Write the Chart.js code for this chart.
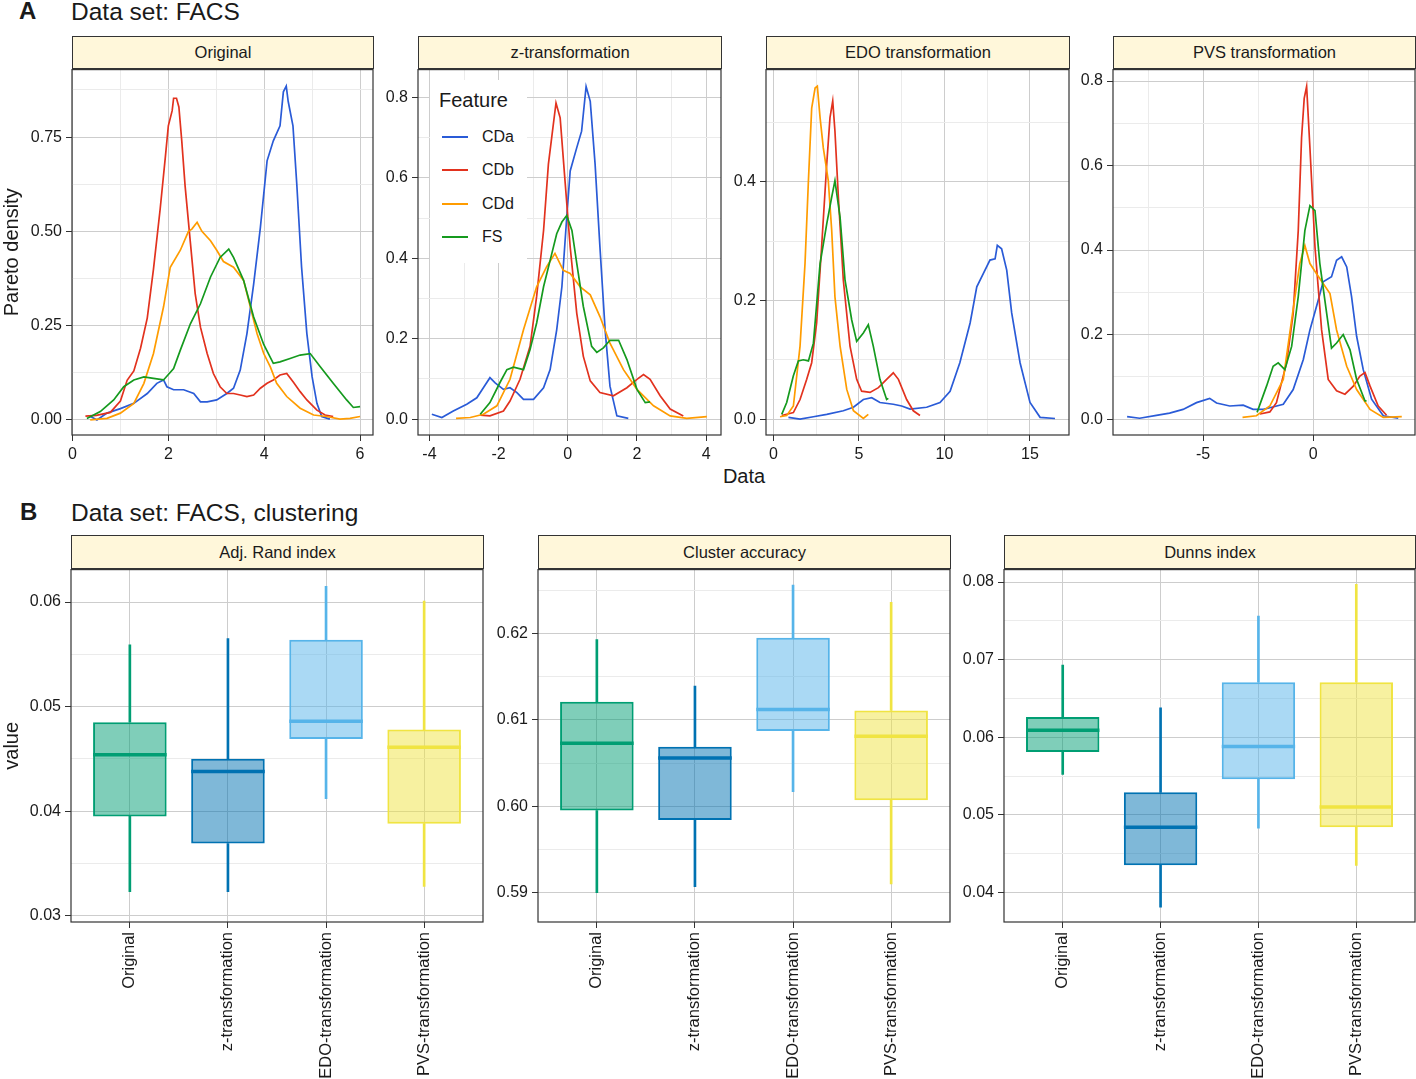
<!DOCTYPE html>
<html><head><meta charset="utf-8">
<script src="https://cdn.jsdelivr.net/npm/chart.js@4.4.1/dist/chart.umd.min.js"></script>
<style>
html,body{margin:0;padding:0;background:#fff;}
body{width:1416px;height:1079px;position:relative;overflow:hidden;font-family:"Liberation Sans",Arial,sans-serif;color:#1a1a1a;}
canvas{position:absolute;}
.strip{position:absolute;box-sizing:border-box;background:#FFF7DA;border:1px solid #333;font-size:16.5px;text-align:center;color:#1a1a1a;white-space:nowrap;}
.txt{position:absolute;white-space:nowrap;line-height:1.2;}
.leg{position:absolute;left:430px;top:80px;width:97px;height:183px;background:#fff;}
.leg .it{position:absolute;left:52px;font-size:16px;line-height:20px;}
.leg .sw{position:absolute;left:12px;width:26px;height:2px;}
</style></head><body>
<div class="txt" style="left:19px;top:-3px;font-size:24px;font-weight:bold;">A</div>
<div class="txt" style="left:71px;top:-3px;font-size:24.5px;">Data set: FACS</div>
<div class="txt" style="left:20px;top:498px;font-size:24px;font-weight:bold;">B</div>
<div class="txt" style="left:71px;top:498px;font-size:24.5px;">Data set: FACS, clustering</div>
<div class="txt" style="left:744px;top:464px;font-size:20px;transform:translateX(-50%);">Data</div>
<script>
// ---------------- DATA ----------------
const features = ['CDa', 'CDb', 'CDd', 'FS'];
const featureColors = ['#2A5BD7', '#E2321E', '#FF9C00', '#159A1E'];

const origCDa = [[0.37,0.01],[0.51,0.0],[0.72,0.018],[1.0,0.03],[1.28,0.044],[1.56,0.07],[1.76,0.097],[1.9,0.106],[1.97,0.088],[2.11,0.08],[2.32,0.08],[2.53,0.07],[2.67,0.048],[2.81,0.048],[3.01,0.053],[3.22,0.07],[3.36,0.084],[3.5,0.132],[3.64,0.229],[3.78,0.36],[3.92,0.51],[4.06,0.687],[4.19,0.74],[4.33,0.78],[4.4,0.87],[4.46,0.885],[4.5,0.845],[4.6,0.78],[4.68,0.625],[4.78,0.405],[4.89,0.229],[5.0,0.114],[5.1,0.044],[5.2,0.009],[5.37,0.002]];
const origCDb = [[0.27,0.01],[0.5,0.012],[0.79,0.02],[1.0,0.05],[1.14,0.105],[1.28,0.13],[1.42,0.19],[1.56,0.27],[1.69,0.40],[1.83,0.56],[1.94,0.70],[2.0,0.78],[2.08,0.82],[2.11,0.853],[2.17,0.853],[2.22,0.83],[2.28,0.74],[2.35,0.62],[2.46,0.47],[2.56,0.335],[2.67,0.246],[2.81,0.176],[2.94,0.123],[3.08,0.088],[3.22,0.07],[3.36,0.07],[3.5,0.066],[3.64,0.062],[3.78,0.066],[3.92,0.084],[4.06,0.097],[4.19,0.106],[4.33,0.119],[4.47,0.123],[4.61,0.10],[4.75,0.075],[4.89,0.053],[5.1,0.026],[5.27,0.013],[5.44,0.009]];
const origCDd = [[0.37,0.0],[0.72,0.004],[1.0,0.018],[1.28,0.044],[1.49,0.097],[1.69,0.176],[1.9,0.30],[2.04,0.405],[2.25,0.45],[2.42,0.50],[2.49,0.506],[2.6,0.524],[2.7,0.50],[2.88,0.475],[3.01,0.45],[3.15,0.42],[3.36,0.405],[3.57,0.37],[3.71,0.30],[3.85,0.229],[3.99,0.176],[4.13,0.14],[4.26,0.097],[4.47,0.062],[4.75,0.031],[5.03,0.013],[5.3,0.009],[5.58,0.002],[5.79,0.004],[6.0,0.009]];
const origFS = [[0.3,0.004],[0.58,0.022],[0.86,0.053],[1.07,0.088],[1.28,0.106],[1.49,0.114],[1.69,0.11],[1.9,0.106],[2.11,0.136],[2.25,0.185],[2.46,0.255],[2.67,0.308],[2.88,0.379],[3.08,0.431],[3.26,0.453],[3.36,0.431],[3.57,0.37],[3.78,0.273],[3.99,0.20],[4.19,0.15],[4.33,0.154],[4.54,0.163],[4.75,0.172],[4.96,0.176],[5.17,0.141],[5.44,0.097],[5.72,0.053],[5.86,0.033],[6.0,0.035]];

const zCDa = [[-3.93,0.012],[-3.64,0.004],[-3.31,0.02],[-2.92,0.037],[-2.63,0.053],[-2.44,0.078],[-2.25,0.103],[-2.1,0.09],[-1.86,0.074],[-1.67,0.078],[-1.47,0.066],[-1.28,0.049],[-0.99,0.049],[-0.70,0.078],[-0.51,0.123],[-0.32,0.222],[-0.17,0.329],[-0.03,0.502],[0.07,0.617],[0.26,0.675],[0.40,0.716],[0.53,0.827],[0.65,0.79],[0.79,0.634],[0.93,0.428],[1.08,0.222],[1.22,0.082],[1.42,0.008],[1.75,0.002]];
const zCDb = [[-2.53,0.01],[-2.25,0.008],[-1.86,0.02],[-1.67,0.045],[-1.38,0.099],[-1.09,0.181],[-0.90,0.305],[-0.70,0.469],[-0.56,0.634],[-0.43,0.724],[-0.34,0.786],[-0.22,0.749],[-0.08,0.593],[0.07,0.428],[0.26,0.263],[0.45,0.156],[0.65,0.095],[0.93,0.066],[1.32,0.058],[1.71,0.078],[2.0,0.099],[2.19,0.111],[2.38,0.099],[2.67,0.058],[2.96,0.025],[3.34,0.008]];
const zCDd = [[-3.23,0.002],[-2.82,0.004],[-2.44,0.012],[-2.05,0.033],[-1.67,0.099],[-1.28,0.222],[-0.90,0.329],[-0.61,0.379],[-0.37,0.412],[-0.13,0.370],[0.07,0.362],[0.36,0.329],[0.65,0.309],[0.93,0.255],[1.22,0.189],[1.61,0.123],[2.0,0.074],[2.48,0.033],[2.96,0.008],[3.44,0.002],[4.02,0.006]];
const zFS = [[-2.53,0.012],[-2.25,0.041],[-1.96,0.091],[-1.76,0.123],[-1.57,0.129],[-1.28,0.123],[-1.09,0.173],[-0.90,0.239],[-0.70,0.329],[-0.46,0.412],[-0.32,0.461],[-0.17,0.490],[-0.03,0.506],[0.12,0.469],[0.26,0.387],[0.45,0.280],[0.69,0.181],[0.84,0.166],[1.03,0.177],[1.22,0.196],[1.47,0.196],[1.71,0.148],[2.0,0.074],[2.24,0.041],[2.38,0.043]];

const edoCDa = [[0.88,0.003],[1.56,0.0],[2.34,0.004],[3.12,0.008],[4.09,0.014],[4.68,0.02],[5.26,0.033],[5.75,0.036],[6.23,0.028],[7.01,0.025],[7.5,0.022],[7.99,0.017],[8.96,0.020],[9.74,0.028],[10.33,0.047],[10.9,0.095],[11.5,0.162],[11.89,0.223],[12.27,0.245],[12.66,0.268],[12.96,0.27],[13.09,0.293],[13.34,0.287],[13.64,0.251],[13.93,0.179],[14.42,0.095],[15.0,0.028],[15.59,0.003],[16.46,0.001]];
const edoCDb = [[0.49,0.006],[1.17,0.011],[1.56,0.033],[1.95,0.067],[2.24,0.095],[2.53,0.162],[2.82,0.29],[3.12,0.43],[3.31,0.508],[3.47,0.536],[3.6,0.485],[3.8,0.374],[4.09,0.234],[4.48,0.123],[4.87,0.067],[5.16,0.047],[5.65,0.045],[6.14,0.053],[6.62,0.067],[7.01,0.078],[7.31,0.067],[7.79,0.033],[8.18,0.014],[8.57,0.006]];
const edoCDd = [[0.39,0.004],[0.78,0.006],[1.17,0.022],[1.56,0.123],[1.85,0.262],[2.05,0.402],[2.24,0.524],[2.44,0.558],[2.57,0.561],[2.73,0.508],[2.92,0.457],[3.21,0.402],[3.41,0.318],[3.6,0.206],[3.9,0.123],[4.29,0.05],[4.68,0.014],[5.26,0.001],[5.55,0.008]];
const edoFS = [[0.49,0.008],[0.78,0.028],[1.17,0.073],[1.46,0.098],[1.75,0.1],[2.05,0.098],[2.34,0.128],[2.73,0.262],[3.12,0.329],[3.41,0.374],[3.6,0.402],[3.9,0.34],[4.19,0.234],[4.58,0.167],[4.87,0.131],[5.26,0.145],[5.55,0.159],[5.84,0.123],[6.23,0.067],[6.62,0.033],[6.72,0.035]];

const pvsCDa = [[-8.45,0.006],[-7.88,0.002],[-7.12,0.009],[-6.52,0.014],[-5.91,0.023],[-5.3,0.039],[-4.7,0.049],[-4.39,0.038],[-3.79,0.031],[-3.18,0.033],[-2.73,0.023],[-2.27,0.023],[-1.97,0.027],[-1.36,0.035],[-0.91,0.07],[-0.45,0.141],[-0.15,0.211],[0.23,0.282],[0.45,0.325],[0.83,0.337],[1.06,0.376],[1.29,0.384],[1.52,0.36],[1.74,0.29],[1.97,0.196],[2.27,0.117],[2.65,0.047],[3.18,0.008],[3.86,0.002]];
const pvsCDb = [[-2.42,0.012],[-1.97,0.017],[-1.67,0.039],[-1.21,0.133],[-0.91,0.25],[-0.68,0.446],[-0.53,0.665],[-0.41,0.759],[-0.3,0.787],[-0.15,0.642],[0.08,0.407],[0.38,0.211],[0.68,0.094],[1.06,0.067],[1.44,0.059],[1.82,0.078],[2.12,0.102],[2.35,0.11],[2.58,0.078],[2.95,0.031],[3.33,0.009]];
const pvsCDd = [[-3.21,0.004],[-2.58,0.008],[-1.97,0.031],[-1.36,0.094],[-0.98,0.235],[-0.61,0.368],[-0.38,0.411],[-0.15,0.368],[0.15,0.344],[0.45,0.321],[0.76,0.297],[1.06,0.211],[1.52,0.125],[1.97,0.07],[2.58,0.023],[3.18,0.004],[4.02,0.006]];
const pvsFS = [[-2.55,0.016],[-2.12,0.078],[-1.82,0.125],[-1.59,0.133],[-1.29,0.117],[-0.98,0.172],[-0.68,0.29],[-0.38,0.446],[-0.15,0.505],[0.08,0.493],[0.3,0.368],[0.61,0.25],[0.83,0.168],[1.06,0.18],[1.36,0.2],[1.67,0.164],[1.97,0.094],[2.35,0.043],[2.42,0.043]];

// tick values
const origXMajor = [0,2,4,6], origXMinor = [1,3,5];
const origYMajor = [0,0.25,0.5,0.75], origYMinor = [0.125,0.375,0.625,0.875];
const zXMajor = [-4,-2,0,2,4], zXMinor = [-3,-1,1,3];
const zYMajor = [0,0.2,0.4,0.6,0.8], zYMinor = [0.1,0.3,0.5,0.7];
const edoXMajor = [0,5,10,15], edoXMinor = [2.5,7.5,12.5];
const edoYMajor = [0,0.2,0.4], edoYMinor = [0.1,0.3,0.5];
const pvsXMajor = [-5,0], pvsXMinor = [-7.5,-2.5,2.5];
const pvsYMajor = [0,0.2,0.4,0.6,0.8], pvsYMinor = [0.1,0.3,0.5,0.7];

// boxplots: [lower whisker, Q1, median, Q3, upper whisker]
const methods = ['Original', 'z-transformation', 'EDO-transformation', 'PVS-transformation'];
const methodColors = ['#009E73', '#0072B2', '#56B4E9', '#F0E442'];
const methodFills = ['rgba(0,158,115,0.5)', 'rgba(0,114,178,0.5)', 'rgba(86,180,233,0.5)', 'rgba(240,228,66,0.5)'];
const adjRandBoxes = [[0.0323,0.0395,0.0454,0.0485,0.0559],[0.0323,0.0369,0.0438,0.0450,0.0565],[0.0412,0.0469,0.0486,0.0564,0.0615],[0.0328,0.0388,0.0461,0.0478,0.0601]];
const clusterAccBoxes = [[0.5900,0.5995,0.6073,0.6121,0.6193],[0.5907,0.5984,0.6056,0.6069,0.6139],[0.6017,0.6087,0.6112,0.6195,0.6256],[0.5910,0.6007,0.6081,0.6111,0.6236]];
const dunnsBoxes = [[0.0552,0.0581,0.0609,0.0626,0.0693],[0.0381,0.0435,0.0484,0.0529,0.0638],[0.0483,0.0546,0.0588,0.0671,0.0756],[0.0435,0.0484,0.0510,0.0671,0.0797]];
const adjRandYMajor = [0.03,0.04,0.05,0.06], adjRandYMinor = [0.035,0.045,0.055];
const clusterAccYMajor = [0.59,0.60,0.61,0.62], clusterAccYMinor = [0.595,0.605,0.615,0.625];
const dunnsYMajor = [0.04,0.05,0.06,0.07,0.08], dunnsYMinor = [0.045,0.055,0.065,0.075];

// ---------------- RENDERING ----------------
const FONT = "'Liberation Sans', Arial, sans-serif";
Chart.defaults.font.family = FONT;
Chart.defaults.color = '#1a1a1a';
const MAJ = '#cdcdcd', MINC = '#ebebeb';

const borderPlugin = { id: 'panelBorder', afterDraw(chart) {
  const {ctx, chartArea: a} = chart; ctx.save(); ctx.strokeStyle = '#333'; ctx.lineWidth = 1.2;
  ctx.strokeRect(a.left, a.top, a.right - a.left, a.bottom - a.top); ctx.restore(); } };

function mkCanvas(left, top, w, h) {
  const c = document.createElement('canvas'); c.width = w; c.height = h;
  c.style.left = left + 'px'; c.style.top = top + 'px'; c.style.width = w + 'px'; c.style.height = h + 'px';
  document.body.appendChild(c); return c;
}
function strip(L, R, top, h, text) {
  const d = document.createElement('div'); d.className = 'strip';
  d.style.left = L + 'px'; d.style.top = top + 'px'; d.style.width = (R - L + 1) + 'px'; d.style.height = h + 'px';
  d.style.lineHeight = (h - 2) + 'px'; d.textContent = text; document.body.appendChild(d);
}
function axis(pos, range, maj, mnr, fmt, size, title, rot, fsize) {
  const all = maj.concat(mnr).sort((a, b) => a - b);
  const isM = v => maj.some(m => Math.abs(m - v) < 1e-9);
  return {
    type: 'linear', position: pos === 'x' ? 'bottom' : 'left', min: range[0], max: range[1], offset: false,
    afterBuildTicks: s => { s.ticks = all.map(v => ({value: v})); },
    afterFit: s => { if (pos === 'x') s.height = size; else s.width = size; },
    grid: { offset: false, drawTicks: true, tickLength: 6, lineWidth: 1, tickWidth: 1,
      color: c => (c.tick && isM(c.tick.value)) ? MAJ : MINC,
      tickColor: c => (c.tick && isM(c.tick.value)) ? '#333' : 'rgba(0,0,0,0)' },
    border: { display: false },
    ticks: { autoSkip: false, maxRotation: rot || 0, minRotation: rot || 0, padding: 4, color: '#1a1a1a',
      font: { size: fsize || 16 }, callback: v => isM(v) ? fmt(v) : '' },
    title: title ? { display: true, text: title, font: { size: 20 }, color: '#1a1a1a', padding: { top: 0, bottom: 0 } } : { display: false }
  };
}

function densityPanel(L, R, axisW, series, xr, yr, xMaj, xMin, yMaj, yMin, yFmt, yTitle, stripText) {
  const T = 68, B = 435, PADT = 12, PADR = 3, XH = 30;
  strip(L, R, 36, 33, stripText);
  const c = mkCanvas(L - axisW, T - PADT, axisW + (R - L) + PADR, (B - T) + PADT + XH);
  new Chart(c, {
    type: 'scatter',
    data: { datasets: series.map((s, i) => ({ label: features[i], data: s.map(p => ({x: p[0], y: p[1]})),
      borderColor: featureColors[i], backgroundColor: featureColors[i], borderWidth: 1.7, showLine: true,
      pointRadius: 0, tension: 0, order: -i })) },
    options: { responsive: false, animation: false, events: [], devicePixelRatio: 1,
      layout: { padding: { top: PADT, right: PADR, left: 0, bottom: 0 } },
      plugins: { legend: { display: false }, tooltip: { enabled: false } },
      scales: { x: axis('x', xr, xMaj, xMin, v => String(v), XH, null), y: axis('y', yr, yMaj, yMin, yFmt, axisW, yTitle) } },
    plugins: [borderPlugin]
  });
}

function boxPanel(L, R, axisW, stats, yr, yMaj, yMin, yTitle, stripText) {
  const T = 568, B = 922, PADT = 12, PADR = 3, XH = 157;
  strip(L, R, 535, 34, stripText);
  const c = mkCanvas(L - axisW, T - PADT, axisW + (R - L) + PADR, (B - T) + PADT + XH);
  const halfW = ctx => { const s = ctx.chart.scales.x; return Math.abs(s.getPixelForValue(0.375) - s.getPixelForValue(0)); };
  new Chart(c, {
    type: 'bar',
    data: { datasets: [
      { data: stats.map((s, i) => ({x: i, y: [s[0], s[1]]})), backgroundColor: methodColors, borderWidth: 0, barThickness: 2, grouped: false, order: 3 },
      { data: stats.map((s, i) => ({x: i, y: [s[3], s[4]]})), backgroundColor: methodColors, borderWidth: 0, barThickness: 2, grouped: false, order: 2 },
      { data: stats.map((s, i) => ({x: i, y: [s[1], s[3]]})), backgroundColor: methodFills, borderColor: methodColors, borderWidth: 2,
        borderSkipped: false, barPercentage: 0.75, categoryPercentage: 1, grouped: false, order: 1 },
      { type: 'scatter', data: stats.map((s, i) => ({x: i, y: s[2]})), pointStyle: 'line', pointRadius: halfW,
        pointBorderWidth: 3.5, pointBorderColor: methodColors, pointBackgroundColor: methodColors, order: 0 }
    ] },
    options: { responsive: false, animation: false, events: [], devicePixelRatio: 1,
      layout: { padding: { top: PADT, right: PADR, left: 0, bottom: 0 } },
      plugins: { legend: { display: false }, tooltip: { enabled: false } },
      scales: { x: axis('x', [-0.6, 3.6], [0,1,2,3], [], v => methods[v], XH, null, 90, 16.5),
                y: axis('y', yr, yMaj, yMin, v => v.toFixed(2), axisW, yTitle) } },
    plugins: [borderPlugin]
  });
}

const f2 = v => v.toFixed(2), f1 = v => v.toFixed(1);
densityPanel(72, 373, 72, [origCDa, origCDb, origCDd, origFS], [-0.01, 6.27], [-0.04, 0.929], origXMajor, origXMinor, origYMajor, origYMinor, f2, 'Pareto density', 'Original');
densityPanel(418, 721, 46, [zCDa, zCDb, zCDd, zFS], [-4.33, 4.43], [-0.0395, 0.869], zXMajor, zXMinor, zYMajor, zYMinor, f1, null, 'z-transformation');
densityPanel(766, 1069, 46, [edoCDa, edoCDb, edoCDd, edoFS], [-0.43, 17.28], [-0.0268, 0.589], edoXMajor, edoXMinor, edoYMajor, edoYMinor, f1, null, 'EDO transformation');
densityPanel(1113, 1415, 46, [pvsCDa, pvsCDb, pvsCDd, pvsFS], [-9.09, 4.62], [-0.0376, 0.827], pvsXMajor, pvsXMinor, pvsYMajor, pvsYMinor, f1, null, 'PVS transformation');

boxPanel(71, 483, 71, adjRandBoxes, [0.0294, 0.0631], adjRandYMajor, adjRandYMinor, 'value', 'Adj. Rand index');
boxPanel(538, 950, 50, clusterAccBoxes, [0.5866, 0.6274], clusterAccYMajor, clusterAccYMinor, null, 'Cluster accuracy');
boxPanel(1004, 1415, 50, dunnsBoxes, [0.0362, 0.0816], dunnsYMajor, dunnsYMinor, null, 'Dunns index');

// legend (inside z-transformation panel)
const leg = document.createElement('div'); leg.className = 'leg';
let html = '<div class="txt" style="left:9px;top:8px;font-size:20px;">Feature</div>';
features.forEach((f, i) => {
  const cy = 57 + i * 33.3;
  html += '<div class="sw" style="top:' + (cy - 1) + 'px;background:' + featureColors[i] + ';"></div>';
  html += '<div class="it" style="top:' + (cy - 10) + 'px;">' + f + '</div>';
});
leg.innerHTML = html; document.body.appendChild(leg);
</script>
</body></html>
